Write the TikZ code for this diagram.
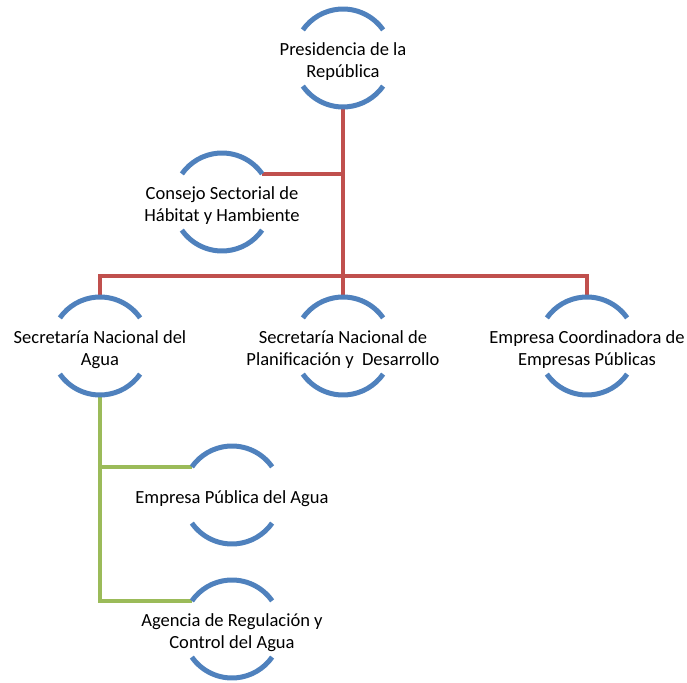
\documentclass[tikz,border=0pt]{standalone}
\usepackage{fontspec}
\setmainfont{Carlito}
\usepackage{tikz}
\usetikzlibrary{calc}
\definecolor{ringblue}{HTML}{4F81BD}
\definecolor{linered}{HTML}{C0504D}
\definecolor{linegreen}{HTML}{9BBB59}
\begin{document}
\begin{tikzpicture}[x=0.75pt, y=0.75pt,
  ring/.style={circle, minimum size=73.5pt, inner sep=0pt, outer sep=0pt},
  txt/.style={align=center, inner sep=0pt, yshift=-3pt, font=\fontsize{13.9}{16.5}\selectfont},
  arcline/.style={draw=ringblue, line width=3.75pt},
  redline/.style={draw=linered, line width=3pt},
  greenline/.style={draw=linegreen, line width=3pt}]
\useasboundingbox (0,0) rectangle (687,683);
\node[ring] (pres) at (343,625) {};
\node[ring] (cons) at (222,481) {};
\node[ring] (sna) at (100,337) {};
\node[ring] (snp) at (343,337) {};
\node[ring] (eco) at (587,337) {};
\node[ring] (epa) at (232,188) {};
\node[ring] (arca) at (232,54) {};
\node[txt] (pres-t) at (pres) {Presidencia de la\\República};
\node[txt] (cons-t) at (cons) {Consejo Sectorial de\\Hábitat y Hambiente};
\node[txt] (sna-t) at (sna) {Secretaría Nacional del\\Agua};
\node[txt] (snp-t) at (snp) {Secretaría Nacional de\\Planificación y~ Desarrollo};
\node[txt] (eco-t) at (eco) {Empresa Coordinadora de\\Empresas Públicas};
\node[txt] (epa-t) at (epa) {Empresa Pública del Agua};
\node[txt] (arca-t) at (arca) {Agencia de Regulación y\\Control del Agua};
% red tree
\coordinate (bus) at (343,407);
\draw[redline] (pres.south) -- (snp.north);
\draw[redline] (sna.north) |- (bus) -| (eco.north);
\draw[redline] (cons.35) -| (pres.south);
% green tree
\draw[greenline] (sna.south) |- (epa.145);
\draw[greenline] (sna.south) |- (arca.145);
% ring arcs
\foreach \n in {pres,cons,sna,snp,eco,epa,arca}{
  \draw[arcline] (\n.35) arc[start angle=35, end angle=145, radius=36.75pt];
  \draw[arcline] (\n.215) arc[start angle=215, end angle=325, radius=36.75pt];
}
\end{tikzpicture}
\end{document}
